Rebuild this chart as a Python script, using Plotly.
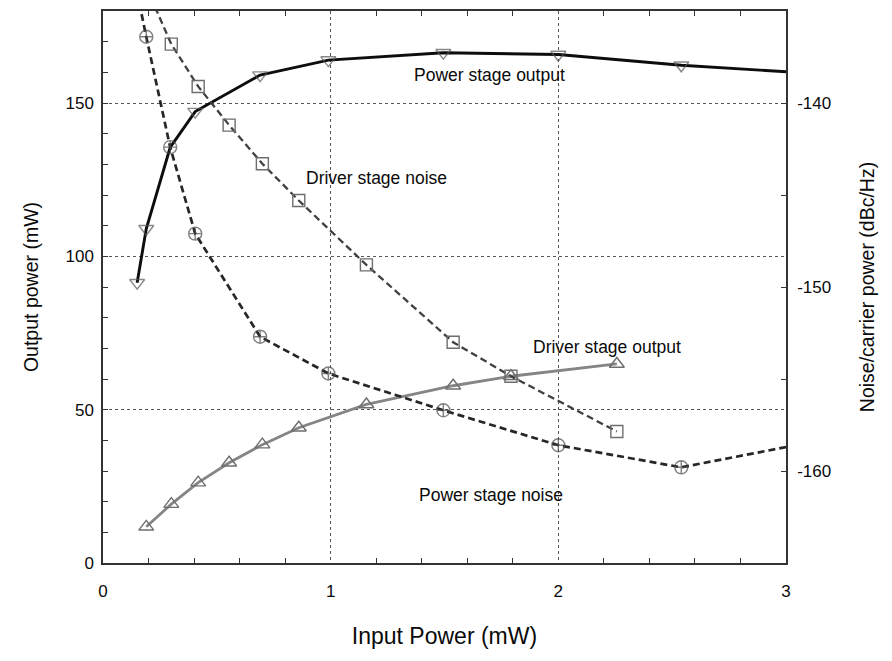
import plotly.graph_objects as go

# ---- data ----
input_power_ps = [0.15, 0.19, 0.295, 0.405, 0.69, 0.99, 1.495, 2.0, 2.54, 3.0]
power_stage_output = [91.4, 109.0, 135.5, 147.2, 159.1, 164.0, 166.4, 165.8, 162.3, 160.2]
power_stage_noise = [-134.0, -136.4, -142.4, -147.1, -152.7, -154.7, -156.7, -158.6, -159.8, -158.7]

input_power_drv = [0.19, 0.30, 0.418, 0.554, 0.70, 0.86, 1.157, 1.538, 1.792, 2.257]
driver_stage_output = [11.8, 19.2, 26.2, 32.7, 38.6, 44.1, 51.7, 57.8, 60.9, 64.9]
driver_stage_noise = [-133.7, -136.8, -139.1, -141.2, -143.3, -145.3, -148.8, -153.0, -154.85, -157.85]

ps_out_marker_size = [13, 13, 0, 13, 13, 13, 13, 13, 13, 0]
ps_noise_marker_size = [0, 13, 13, 13, 13, 13, 13, 13, 13, 0]

right_tick_vals = [-160, -150, -140]
right_tick_text = ["-160", "-150", "-140"]

labels = [
    ("Power stage output", 1.697, 159.2),
    ("Driver stage noise", 1.20, 125.4),
    ("Driver stage output", 2.215, 70.3),
    ("Power stage noise", 1.704, 22.1),
]

FONT = "Liberation Sans, Arial, sans-serif"

fig = go.Figure()

fig.add_trace(go.Scatter(
    x=input_power_drv, y=driver_stage_output, mode="lines+markers",
    line=dict(color="#858585", width=2.8),
    marker=dict(symbol="triangle-up-open", size=13, color="#6e6e6e", line=dict(width=1.4)),
    yaxis="y", showlegend=False))

fig.add_trace(go.Scatter(
    x=input_power_drv, y=driver_stage_noise, mode="lines+markers",
    line=dict(color="#404040", width=2.3, dash="7px,4px"),
    marker=dict(symbol="square-open", size=12, color="#6e6e6e", line=dict(width=1.4)),
    yaxis="y2", showlegend=False))

fig.add_trace(go.Scatter(
    x=input_power_ps, y=power_stage_noise, mode="lines+markers",
    line=dict(color="#262626", width=2.7, dash="7px,4px"),
    marker=dict(symbol="circle-cross-open", size=ps_noise_marker_size, color="#4a4a4a", line=dict(width=1.4)),
    yaxis="y2", showlegend=False))

fig.add_trace(go.Scatter(
    x=input_power_ps, y=power_stage_output, mode="lines+markers",
    line=dict(color="#0d0d0d", width=2.9),
    marker=dict(symbol="triangle-down-open", size=ps_out_marker_size, color="#555555", line=dict(width=1.4)),
    yaxis="y", showlegend=False))

for text, lx, ly in labels:
    fig.add_annotation(x=lx, y=ly, xref="x", yref="y", text=text, showarrow=False,
                       font=dict(family=FONT, size=17.5, color="#0a0a0a"))

fig.update_layout(
    width=892, height=661,
    margin=dict(l=103, r=106, t=9, b=98),
    paper_bgcolor="white", plot_bgcolor="white",
    font=dict(family=FONT, size=17, color="#0a0a0a"),
    xaxis=dict(
        range=[0, 3], dtick=1, tick0=0,
        showline=True, linecolor="#333333", linewidth=1.5, mirror="ticks",
        ticks="inside", ticklen=0, tickcolor="#333333",
        minor=dict(dtick=0.2, ticks="inside", ticklen=5, tickcolor="#333333", showgrid=False),
        showgrid=True, gridcolor="#555555", griddash="dot", gridwidth=1,
        zeroline=False, ticklabelstandoff=12,
        title=dict(text="Input Power (mW)", font=dict(size=23), standoff=28),
    ),
    yaxis=dict(
        range=[0, 180], dtick=50, tick0=0,
        showline=True, linecolor="#333333", linewidth=1.5, mirror=True,
        ticks="inside", ticklen=5, tickcolor="#333333",
        minor=dict(dtick=10, ticks="inside", ticklen=5, tickcolor="#333333", showgrid=False),
        showgrid=True, gridcolor="#555555", griddash="dot", gridwidth=1,
        zeroline=False, ticklabelstandoff=4,
        title=dict(text="Output power (mW)", font=dict(size=19.5), standoff=22),
    ),
    yaxis2=dict(
        range=[-165, -135], tickmode="array", tickvals=right_tick_vals, ticktext=right_tick_text,
        overlaying="y", side="right",
        showline=True, linecolor="#333333", linewidth=1.5,
        ticks="inside", ticklen=5, tickcolor="#333333",
        minor=dict(dtick=5, tick0=0, ticks="inside", ticklen=5, tickcolor="#333333", showgrid=False),
        showgrid=False, zeroline=False, ticklabelstandoff=6,
        title=dict(text="Noise/carrier power (dBc/Hz)", font=dict(size=19.5), standoff=30),
    ),
)

fig.write_html("out.html")
